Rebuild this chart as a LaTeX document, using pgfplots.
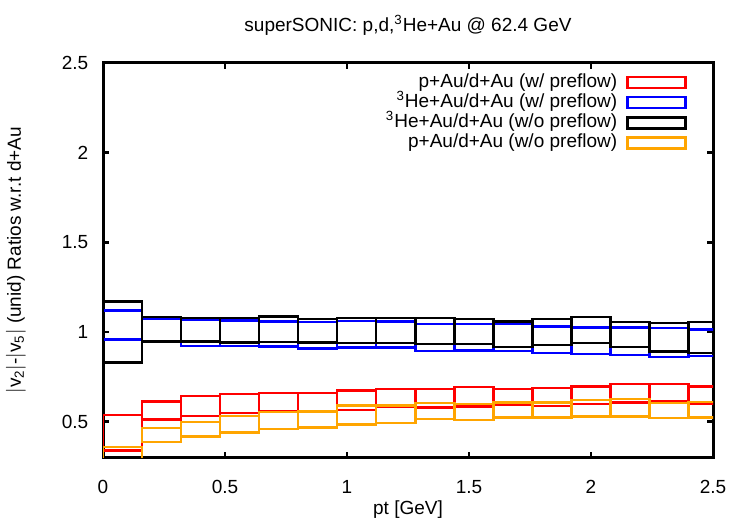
\documentclass[border=0pt]{standalone}
\usepackage{pgfplots}
\pgfplotsset{compat=1.18}
\usepackage{pgfplotstable}
\usepackage{fontspec}
\setmainfont{Liberation Sans}
\definecolor{gporange}{RGB}{255,165,0}

% bins in pt: left edge, right edge, lower and upper end of each box
\pgfplotstableread{
xl   xh   lo    hi
0.00 0.16 0.340 0.537
0.16 0.32 0.513 0.612
0.32 0.48 0.532 0.644
0.48 0.64 0.547 0.655
0.64 0.80 0.556 0.661
0.80 0.96 0.556 0.661
0.96 1.12 0.565 0.673
1.12 1.28 0.581 0.681
1.28 1.44 0.579 0.681
1.44 1.60 0.584 0.692
1.60 1.76 0.593 0.683
1.76 1.92 0.588 0.687
1.92 2.08 0.597 0.696
2.08 2.24 0.606 0.709
2.24 2.40 0.612 0.709
2.40 2.56 0.597 0.696
}\pAuPre

\pgfplotstableread{
xl   xh   lo    hi
0.00 0.16 0.957 1.119
0.16 0.32 0.944 1.073
0.32 0.48 0.923 1.069
0.48 0.64 0.923 1.065
0.64 0.80 0.920 1.059
0.80 0.96 0.908 1.057
0.96 1.12 0.914 1.062
1.12 1.28 0.914 1.059
1.28 1.44 0.895 1.045
1.44 1.60 0.897 1.045
1.60 1.76 0.895 1.045
1.76 1.92 0.883 1.031
1.92 2.08 0.877 1.026
2.08 2.24 0.871 1.026
2.24 2.40 0.860 1.022
2.40 2.56 0.867 1.013
}\HeAuPre

\pgfplotstableread{
xl   xh   lo    hi
0.00 0.16 0.830 1.171
0.16 0.32 0.947 1.084
0.32 0.48 0.947 1.078
0.48 0.64 0.942 1.078
0.64 0.80 0.944 1.087
0.80 0.96 0.942 1.073
0.96 1.12 0.938 1.078
1.12 1.28 0.938 1.078
1.28 1.44 0.934 1.077
1.44 1.60 0.933 1.073
1.60 1.76 0.916 1.059
1.76 1.92 0.929 1.073
1.92 2.08 0.938 1.084
2.08 2.24 0.916 1.056
2.24 2.40 0.892 1.050
2.40 2.56 0.883 1.056
}\HeAuNoPre

\pgfplotstableread{
xl   xh   lo    hi
0.00 0.16 0.290 0.360
0.16 0.32 0.386 0.465
0.32 0.48 0.416 0.497
0.48 0.64 0.439 0.532
0.64 0.80 0.459 0.554
0.80 0.96 0.467 0.556
0.96 1.12 0.485 0.590
1.12 1.28 0.494 0.590
1.28 1.44 0.515 0.604
1.44 1.60 0.510 0.597
1.60 1.76 0.522 0.606
1.76 1.92 0.522 0.606
1.92 2.08 0.528 0.620
2.08 2.24 0.528 0.627
2.24 2.40 0.519 0.603
2.40 2.56 0.522 0.608
}\pAuNoPre

\newcommand{\lblfont}{\fontsize{9.5bp}{11bp}\selectfont}

% one outlined box per bin, drawn edge by edge with quiver segments
\newcommand{\binboxes}[3]{%
  \addplot[#2, line width=1.2bp, line cap=rect,
    quiver={u=\thisrow{xh}-\thisrow{xl}, v=0},
    legend image code/.code={\draw[line width=1.2bp] (0bp,-2.75bp) rectangle (29bp,2.75bp);}]
    table[x=xl, y=lo] {#1};
  \addlegendentry{#3}
  \addplot[#2, line width=1.2bp, line cap=rect, forget plot,
    quiver={u=\thisrow{xh}-\thisrow{xl}, v=0}] table[x=xl, y=hi] {#1};
  \addplot[#2, line width=1.2bp, line cap=rect, forget plot,
    quiver={u=0, v=\thisrow{hi}-\thisrow{lo}}] table[x=xl, y=lo] {#1};
  \addplot[#2, line width=1.2bp, line cap=rect, forget plot,
    quiver={u=0, v=\thisrow{hi}-\thisrow{lo}}] table[x=xh, y=lo] {#1};
}

\begin{document}
\lblfont
\begin{tikzpicture}
\useasboundingbox (-51.5bp,-33.75bp) rectangle (323.5bp,228.75bp);
\begin{axis}[
  at={(0,0)}, anchor=south west,
  scale only axis, width=305bp, height=197.25bp,
  xmin=0, xmax=2.5, ymin=0.3, ymax=2.5,
  xtick={0,0.5,1,1.5,2,2.5},
  ytick={0.5,1,1.5,2,2.5},
  minor tick num=0,
  tick align=inside,
  major tick length=3bp,
  every tick/.style={black, line width=1.3bp},
  axis line style={line width=1.5bp},
  /pgf/number format/assume math mode=true,
  ticklabel style={font=\lblfont},
  xticklabel style={yshift=-8bp},
  yticklabel style={xshift=-4bp},
  title={superSONIC: p,d,\textsuperscript{3}He+Au @ 62.4 GeV},
  every axis title/.style={at={(rel axis cs:0.5,1)}, anchor=center, yshift=19bp, font=\lblfont},
  xlabel={pt [GeV]},
  every axis x label/.style={at={(rel axis cs:0.5,0)}, anchor=center, yshift=-26bp, font=\lblfont},
  ylabel={$|$v\textsubscript{2}$|$-$|$v\textsubscript{5}$|$ (unid) Ratios w.r.t d+Au},
  every axis y label/.style={at={(rel axis cs:0,0.5)}, xshift=-43.5bp, rotate=90, anchor=center, font=\lblfont},
  legend plot pos=right,
  legend cell align=right,
  legend style={draw=none, fill=none, at={(rel axis cs:1,1)}, anchor=north east,
    xshift=-10bp, yshift=-2.5bp, row sep=0pt,
    nodes={inner sep=0.5bp, text height=7bp, text depth=2.1bp},
    font=\lblfont,
    /tikz/every odd column/.append style={column sep=4bp}},
]
\binboxes{\pAuPre}{red}{p+Au/d+Au (w/ preflow)}
\binboxes{\HeAuPre}{blue}{\textsuperscript{3}He+Au/d+Au (w/ preflow)}
\binboxes{\HeAuNoPre}{black}{\textsuperscript{3}He+Au/d+Au (w/o preflow)}
\binboxes{\pAuNoPre}{gporange}{p+Au/d+Au (w/o preflow)}
\end{axis}
\end{tikzpicture}
\end{document}
